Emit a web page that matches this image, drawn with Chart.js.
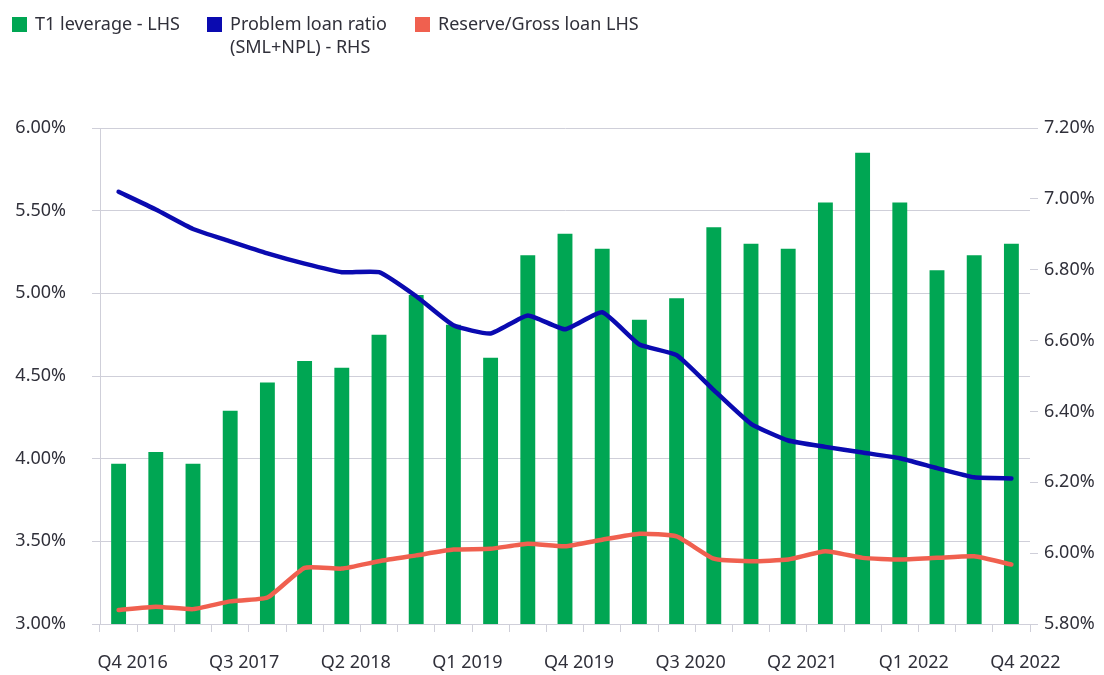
<!DOCTYPE html>
<html>
<head>
<meta charset="utf-8">
<script src="https://cdn.jsdelivr.net/npm/chart.js@4.4.0/dist/chart.umd.min.js"></script>
<style>
  html, body { margin: 0; padding: 0; background: #fff; }
  #wrap { position: relative; width: 1104px; height: 675px; }
  #legend-container { position: absolute; left: 0; top: 0; width: 1104px; height: 70px; }
  canvas { position: absolute; left: 0; top: 0; }
</style>
</head>
<body>
<div id="wrap">
  <canvas id="myChart" width="1104" height="675"></canvas>
  <div id="legend-container"></div>
</div>
<script>
// quarters on the x axis
const quarters = ['Q4 2016', 'Q1 2017', 'Q2 2017', 'Q3 2017', 'Q4 2017', 'Q1 2018', 'Q2 2018', 'Q3 2018',
  'Q4 2018', 'Q1 2019', 'Q2 2019', 'Q3 2019', 'Q4 2019', 'Q1 2020', 'Q2 2020', 'Q3 2020', 'Q4 2020',
  'Q1 2021', 'Q2 2021', 'Q3 2021', 'Q4 2021', 'Q1 2022', 'Q2 2022', 'Q3 2022', 'Q4 2022'];

// T1 leverage (LHS, %)
const t1Leverage = [3.97, 4.04, 3.97, 4.29, 4.46, 4.59, 4.55, 4.75, 4.99, 4.81, 4.61, 5.23, 5.36,
  5.27, 4.84, 4.97, 5.40, 5.30, 5.27, 5.55, 5.85, 5.55, 5.14, 5.23, 5.30];

// Problem loan ratio (SML+NPL) (RHS, %)
const problemLoan = [7.02, 6.97, 6.915, 6.88, 6.846, 6.817, 6.793, 6.793, 6.725, 6.643, 6.62, 6.671, 6.632,
  6.68, 6.589, 6.559, 6.46, 6.365, 6.318, 6.30, 6.284, 6.268, 6.24, 6.214, 6.211];

// Reserve / Gross loan (LHS, %)
const reserveGross = [3.085, 3.105, 3.09, 3.137, 3.16, 3.34, 3.335, 3.38, 3.415, 3.45, 3.455, 3.485, 3.47,
  3.51, 3.546, 3.53, 3.395, 3.38, 3.39, 3.44, 3.40, 3.39, 3.40, 3.41, 3.36];

const seriesNames = ['T1 leverage - LHS', 'Problem loan ratio\n(SML+NPL) - RHS', 'Reserve/Gross loan LHS'];

const textColor = '#30303a';
const gridColor = '#cfcfd9';
const fontFamily = '"Noto Sans", "Open Sans", sans-serif';
const legendX = [12, 207, 415]; // left edge of each legend item

const htmlLegendPlugin = {
  id: 'htmlLegend',
  afterUpdate(chart, args, options) {
    const box = document.getElementById(options.containerID);
    box.innerHTML = '';
    const items = chart.options.plugins.legend.labels.generateLabels(chart);
    // keep dataset order, not draw order
    items.sort((a, b) => a.datasetIndex - b.datasetIndex);

    items.forEach((item, i) => {
      const row = document.createElement('div');
      row.style.position = 'absolute';
      row.style.left = legendX[i] + 'px';
      row.style.top = '12px';
      row.style.display = 'flex';
      row.style.alignItems = 'flex-start';

      // Color box
      const sw = document.createElement('span');
      sw.style.display = 'inline-block';
      sw.style.width = '15px';
      sw.style.height = '15px';
      sw.style.marginTop = '5px';
      sw.style.marginRight = '8px';
      sw.style.background = chart.data.datasets[item.datasetIndex].legendColor;

      // Text
      const txt = document.createElement('span');
      txt.style.font = '18px ' + fontFamily;
      txt.style.lineHeight = '23px';
      txt.style.color = textColor;
      txt.style.whiteSpace = 'pre';
      txt.textContent = item.text;

      row.appendChild(sw);
      row.appendChild(txt);
      box.appendChild(row);
    });
  }
};

const data = {
  labels: quarters,
  datasets: [
    {
      type: 'bar',
      label: seriesNames[0],
      data: t1Leverage,
      yAxisID: 'y',
      backgroundColor: '#00a653',
      legendColor: '#00a653',
      barPercentage: 0.8,
      categoryPercentage: 0.5,
      order: 3
    },
    {
      type: 'line',
      label: seriesNames[1],
      data: problemLoan,
      yAxisID: 'y1',
      borderColor: '#0a0ab0',
      legendColor: '#0a0ab0',
      borderWidth: 4.5,
      pointRadius: 0,
      tension: 0.15,
      borderCapStyle: 'round',
      borderJoinStyle: 'round',
      order: 1
    },
    {
      type: 'line',
      label: seriesNames[2],
      data: reserveGross,
      yAxisID: 'y',
      borderColor: '#f0604f',
      legendColor: '#f0604f',
      borderWidth: 4.5,
      pointRadius: 0,
      tension: 0.15,
      borderCapStyle: 'round',
      borderJoinStyle: 'round',
      order: 2
    }
  ]
};

const config = {
  data: data,
  options: {
    responsive: false,
    animation: false,
    layout: { padding: { top: 128, left: 0, right: 0, bottom: 0 } },
    plugins: {
      htmlLegend: { containerID: 'legend-container' },
      legend: { display: false },
      tooltip: { enabled: false }
    },
    scales: {
      x: {
        offset: true,
        grid: { offset: true, drawOnChartArea: false, drawTicks: true, tickLength: 8, color: gridColor },
        border: { display: true, color: gridColor },
        ticks: {
          autoSkip: false,
          maxRotation: 0,
          padding: 20,
          labelOffset: 14,
          color: textColor,
          font: { family: fontFamily, size: 18 },
          callback: function(v, i) { return i % 3 === 0 ? quarters[i] : ''; }
        },
        afterFit: function(scale) { scale.height = 51; }
      },
      y: {
        position: 'left',
        min: 3,
        max: 6,
        grid: { color: gridColor, tickLength: 8 },
        border: { display: true, color: gridColor },
        ticks: {
          stepSize: 0.5,
          padding: 26,
          color: textColor,
          font: { family: fontFamily, size: 18 },
          callback: function(v) { return v.toFixed(2) + '%'; }
        },
        afterFit: function(scale) { scale.width = 100; }
      },
      y1: {
        position: 'right',
        min: 5.8,
        max: 7.2,
        grid: { drawOnChartArea: false, tickLength: 8, color: gridColor },
        border: { display: false },
        ticks: {
          stepSize: 0.2,
          padding: 6,
          color: textColor,
          font: { family: fontFamily, size: 18 },
          callback: function(v) { return v.toFixed(2) + '%'; }
        },
        afterFit: function(scale) { scale.width = 74; }
      }
    }
  },
  plugins: [htmlLegendPlugin]
};

const myChart = new Chart(document.getElementById('myChart'), config);
</script>
</body>
</html>
